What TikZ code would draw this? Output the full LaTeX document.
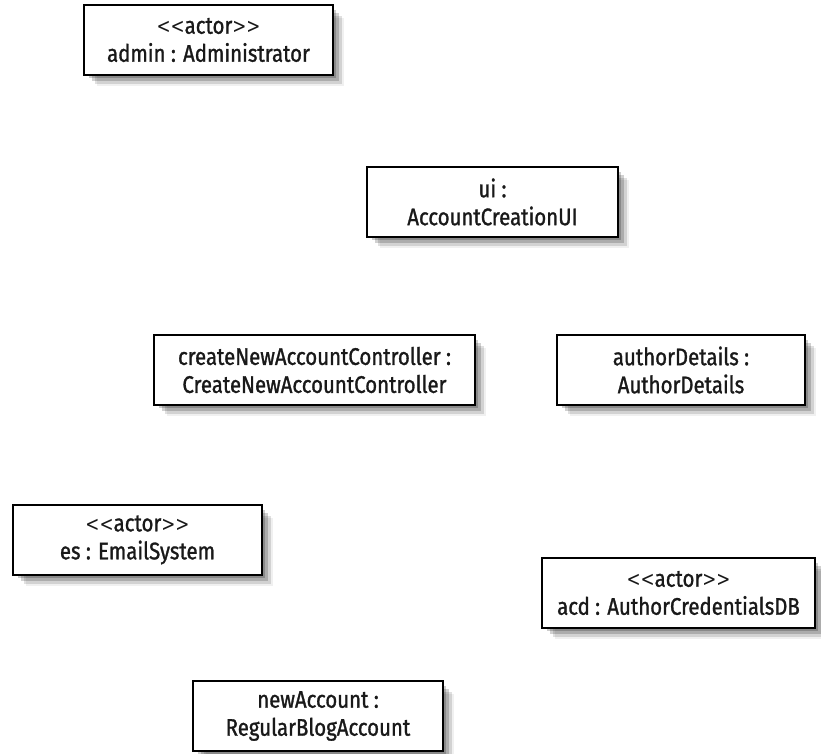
\documentclass[tikz,border=0pt]{standalone}
\usepackage{fontspec}
\setmainfont{Fira Sans}[FakeStretch=0.85, FakeBold=1.2]
\newfontfamily\anglefont{DejaVu Sans}[FakeStretch=0.8]
\newcommand{\agl}[1]{{\anglefont\fontsize{21}{28}\selectfont#1}}
\newcommand{\stereo}{\agl{<\kern0pt<}actor\agl{>\kern0pt>}}
\begin{document}
\begin{tikzpicture}[x=1pt,y=-1pt,
  obj/.style={draw=black, line width=2.6pt, fill=white, inner sep=0pt,
    minimum height=70pt, align=center, font=\fontsize{24}{28}\selectfont, text=black!90}]
\useasboundingbox (0,0) rectangle (821,754);
\fill[white] (0,0) rectangle (821,754);
\foreach \cx/\cy/\w in {208.5/40/249, 492.5/202/251, 314.5/370/321, 681/370/248, 137.5/540/249, 678.5/593/273, 318/716/250}{
  \foreach \d/\o in {3/0.2,6/0.18,9/0.12,11/0.06}{
    \fill[black,opacity=\o] (\cx-\w/2+\d+2,\cy-35+\d+2) rectangle (\cx+\w/2+\d,\cy+35+\d);
  }
}
\node[obj, minimum width=249pt] (admin) at (208.5,40) {\stereo\\admin : Administrator};
\node[obj, minimum width=251pt] (ui) at (492.5,202) {ui :\\AccountCreationUI};
\node[obj, minimum width=321pt] (cnac) at (314.5,370) {createNewAccountController :\\CreateNewAccountController};
\node[obj, minimum width=248pt] (ad) at (681,370) {authorDetails :\\AuthorDetails};
\node[obj, minimum width=249pt] (es) at (137.5,540) {\stereo\\es : EmailSystem};
\node[obj, minimum width=273pt] (acd) at (678.5,593) {\stereo\\acd : AuthorCredentialsDB};
\node[obj, minimum width=250pt] (na) at (318,716) {newAccount :\\RegularBlogAccount};
\end{tikzpicture}
\end{document}
